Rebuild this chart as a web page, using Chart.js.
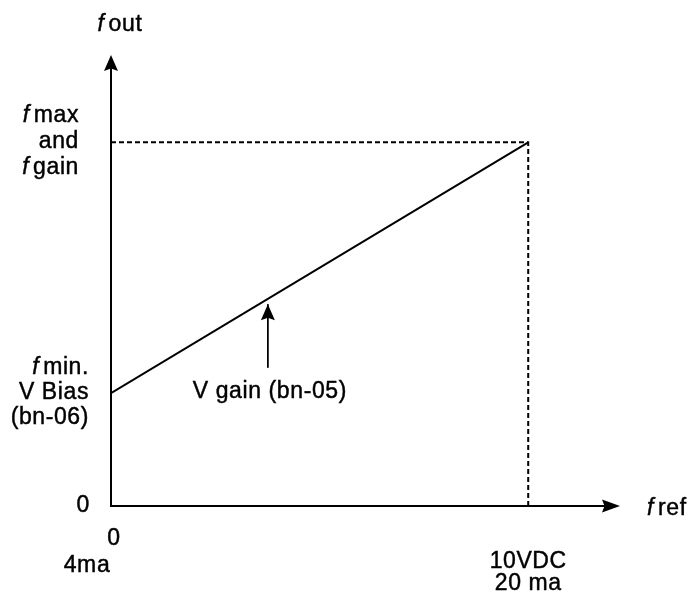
<!DOCTYPE html>
<html>
<head>
<meta charset="utf-8">
<script src="https://cdn.jsdelivr.net/npm/chart.js@4/dist/chart.umd.min.js"></script>
<style>
  html, body { margin: 0; padding: 0; background: #fff; }
  canvas { display: block; }
</style>
</head>
<body>
<canvas id="myChart" width="695" height="602"></canvas>
<script>
// values in "percent of f max" on y, volts on x
var refPoints = [0, 10];          // f ref: 0 and 10VDC
var outPoints = [31, 100];        // f out: bias and f max
var guideX = [0, 10, 10];
var guideY = [100, 100, 0];
var pointerX = [3.76, 3.76];
var pointerY = [38, 55.5];
var axisMaxX = 12.2;
var axisMaxY = 124;

var FONT = '"Liberation Sans", Arial, Helvetica, sans-serif';
var SIZE = 23;

function pts(xs, ys) {
  var out = [];
  for (var i = 0; i < xs.length; i++) out.push({ x: xs[i], y: ys[i] });
  return out;
}

function setFont(ctx, italic) {
  ctx.font = (italic ? 'italic ' : '') + SIZE + 'px ' + FONT;
  ctx.letterSpacing = '0.6px';
}

function draw(ctx, s, x, y) {
  ctx.fillText(s, x, y);
  ctx.lineWidth = 0.45;
  ctx.strokeText(s, x, y);
}

// text with an italic "f" in front
function fText(ctx, rest, x, y, align) {
  setFont(ctx, true);
  var wf = ctx.measureText('f').width + 4;
  setFont(ctx, false);
  var wr = ctx.measureText(rest).width;
  var start = x;
  if (align === 'right') start = x - wf - wr;
  if (align === 'center') start = x - (wf + wr) / 2;
  ctx.textAlign = 'left';
  setFont(ctx, true);
  draw(ctx, 'f', start, y);
  setFont(ctx, false);
  draw(ctx, rest, start + wf, y);
}

function plain(ctx, s, x, y, align) {
  setFont(ctx, false);
  var w = ctx.measureText(s).width;
  var start = x;
  if (align === 'right') start = x - w;
  if (align === 'center') start = x - w / 2;
  ctx.textAlign = 'left';
  draw(ctx, s, start, y);
}

function arrowHead(ctx, x, y, dir, len, half) {
  ctx.beginPath();
  if (dir === 'up') {
    ctx.moveTo(x, y);
    ctx.lineTo(x - half, y + len);
    ctx.lineTo(x, y + len - 2.5);
    ctx.lineTo(x + half, y + len);
  } else {
    ctx.moveTo(x, y);
    ctx.lineTo(x - len, y - half);
    ctx.lineTo(x - len + 2.5, y);
    ctx.lineTo(x - len, y + half);
  }
  ctx.closePath();
  ctx.fill();
}

var decor = {
  id: 'decor',
  afterDatasetsDraw: function (chart) {
    var ctx = chart.ctx;
    var xs = chart.scales.x, ys = chart.scales.y;
    var x0 = xs.getPixelForValue(0), y0 = ys.getPixelForValue(0);
    var xEnd = xs.getPixelForValue(axisMaxX), yEnd = ys.getPixelForValue(axisMaxY);
    ctx.save();
    ctx.fillStyle = '#000';
    ctx.strokeStyle = '#000';

    // axes
    ctx.lineWidth = 2;
    ctx.beginPath();
    ctx.moveTo(x0, yEnd + 8);
    ctx.lineTo(x0, y0);
    ctx.lineTo(xEnd - 8, y0);
    ctx.stroke();
    arrowHead(ctx, x0, yEnd, 'up', 16, 7);
    arrowHead(ctx, xEnd, y0, 'right', 18, 6.5);

    // pointer arrow
    var px = xs.getPixelForValue(pointerX[1]);
    var py = ys.getPixelForValue(pointerY[1]);
    arrowHead(ctx, px, py, 'up', 16, 7);

    ctx.textBaseline = 'alphabetic';
    var yMax = ys.getPixelForValue(outPoints[1]);
    var yBias = ys.getPixelForValue(outPoints[0]);
    var xTen = xs.getPixelForValue(refPoints[1]);

    fText(ctx, 'out', x0 + 9, 31, 'center');
    fText(ctx, 'max', x0 - 32, yMax - 20, 'right');
    plain(ctx, 'and', x0 - 32, yMax + 6, 'right');
    fText(ctx, 'gain', x0 - 32, yMax + 32, 'right');

    fText(ctx, 'min.', x0 - 22, yBias - 19, 'right');
    plain(ctx, 'V Bias', x0 - 22, yBias + 6, 'right');
    plain(ctx, '(bn-06)', x0 - 22, yBias + 31, 'right');

    plain(ctx, '0', x0 - 21, y0 + 6, 'right');
    plain(ctx, '0', x0 + 3, y0 + 39, 'center');
    plain(ctx, '4ma', x0 - 24, y0 + 66, 'center');
    plain(ctx, '10VDC', xTen, y0 + 62, 'center');
    plain(ctx, '20 ma', xTen, y0 + 84, 'center');
    fText(ctx, 'ref', xEnd + 27, y0 + 9, 'left');

    plain(ctx, 'V gain (bn-05)', px + 2, ys.getPixelForValue(pointerY[0]) + 30, 'center');
    ctx.restore();
  }
};

new Chart(document.getElementById('myChart'), {
  type: 'line',
  data: {
    datasets: [
      {
        data: pts(refPoints, outPoints),
        borderColor: '#000',
        borderWidth: 2,
        pointRadius: 0
      },
      {
        data: pts(guideX, guideY),
        borderColor: '#000',
        borderWidth: 2,
        borderDash: [5, 3],
        pointRadius: 0
      },
      {
        data: pts(pointerX, pointerY),
        borderColor: '#000',
        borderWidth: 1.8,
        pointRadius: 0
      }
    ]
  },
  options: {
    responsive: false,
    devicePixelRatio: 1,
    animation: false,
    layout: { padding: { left: 111, right: 75, top: 55, bottom: 96 } },
    plugins: { legend: { display: false }, tooltip: { enabled: false } },
    scales: {
      x: { type: 'linear', min: 0, max: axisMaxX, display: false },
      y: { type: 'linear', min: 0, max: axisMaxY, display: false }
    }
  },
  plugins: [decor]
});
</script>
</body>
</html>
